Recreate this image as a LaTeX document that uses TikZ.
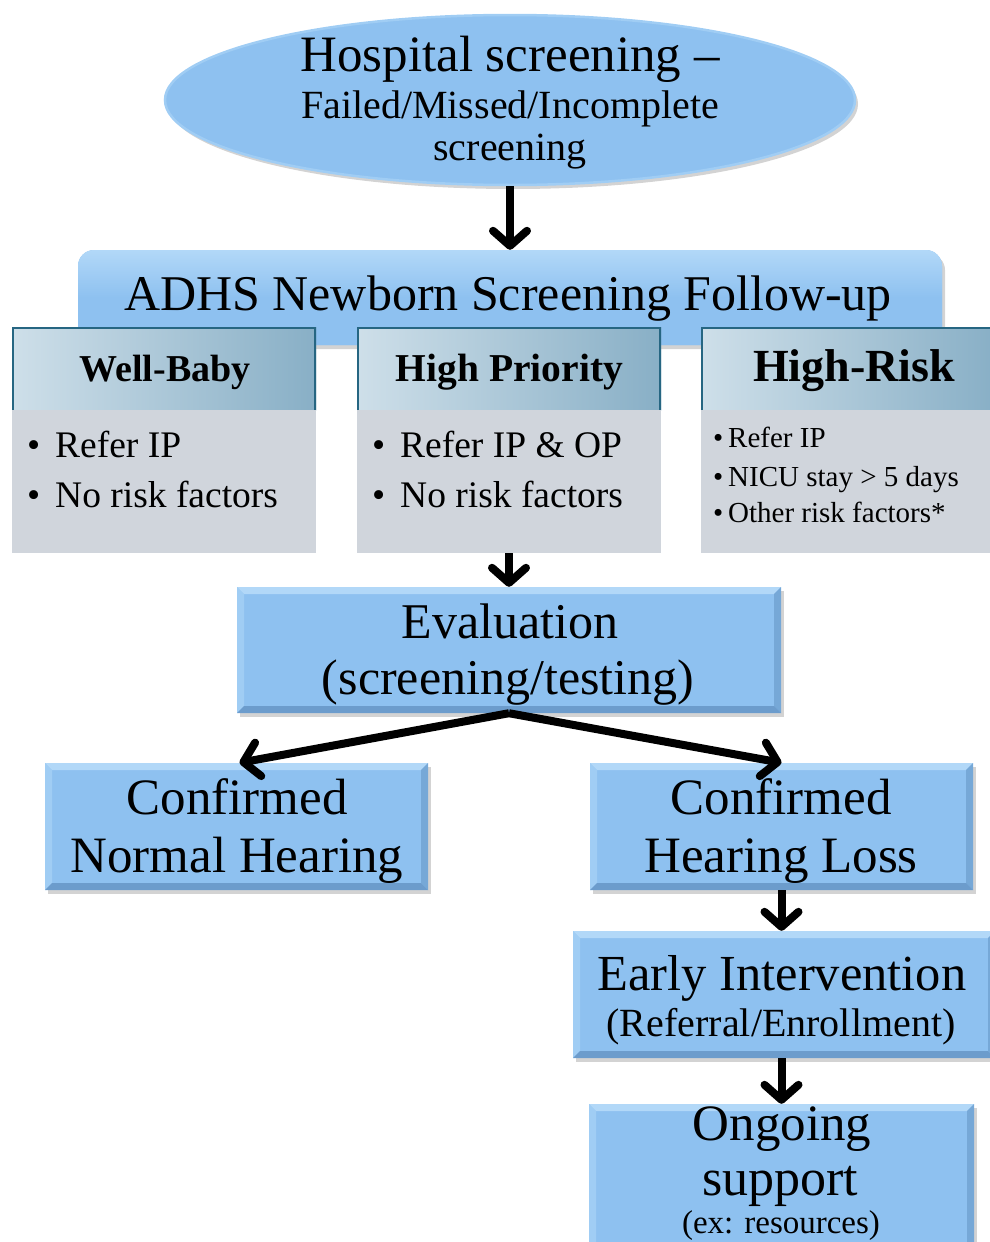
\documentclass[tikz,border=0pt]{standalone}
\usepackage{fontspec}
\setmainfont{Liberation Serif}
\usetikzlibrary{arrows.meta,shapes.geometric,shadows,calc}
\definecolor{boxblue}{RGB}{142,193,240}
\definecolor{bevtop}{RGB}{178,216,248}
\definecolor{bevleft}{RGB}{160,205,244}
\definecolor{bevright}{RGB}{118,168,215}
\definecolor{bevbottom}{RGB}{108,156,204}
\definecolor{bodygray}{RGB}{208,213,220}
\definecolor{hdrlight}{RGB}{206,223,233}
\definecolor{hdrdark}{RGB}{136,175,198}
\definecolor{hdrborder}{RGB}{38,102,130}
\tikzset{
  txt/.style={font=\fontsize{#1}{#1}\selectfont, inner sep=0pt, anchor=base},
  btxt/.style={font=\fontsize{#1}{#1}\selectfont\bfseries, inner sep=0pt, anchor=base},
  ltxt/.style={font=\fontsize{#1}{#1}\selectfont, inner sep=0pt, anchor=base west},
  shad/.style={drop shadow={opacity=0.35, shadow xshift=3pt, shadow yshift=-4pt}},
  bevelbox/.style={rectangle, fill=boxblue, inner sep=0pt, shad,
    path picture={
      \path (path picture bounding box.north west) coordinate (pNW)
            (path picture bounding box.north east) coordinate (pNE)
            (path picture bounding box.south west) coordinate (pSW)
            (path picture bounding box.south east) coordinate (pSE);
      \fill[bevtop] (pNW) -- (pNE) -- ([shift={(-7pt,-7pt)}]pNE) -- ([shift={(7pt,-7pt)}]pNW) -- cycle;
      \fill[bevleft] (pNW) -- ([shift={(7pt,-7pt)}]pNW) -- ([shift={(7pt,7pt)}]pSW) -- (pSW) -- cycle;
      \fill[bevright] (pNE) -- (pSE) -- ([shift={(-7pt,7pt)}]pSE) -- ([shift={(-7pt,-7pt)}]pNE) -- cycle;
      \fill[bevbottom] (pSW) -- ([shift={(7pt,7pt)}]pSW) -- ([shift={(-7pt,7pt)}]pSE) -- (pSE) -- cycle;
    }},
  hdrbox/.style={rectangle, inner sep=0pt, left color=hdrlight, right color=hdrdark,
    path picture={
      \draw[hdrborder, line width=4pt] (path picture bounding box.south west) -- (path picture bounding box.north west)
        -- (path picture bounding box.north east) -- (path picture bounding box.south east);
    }},
  bodybox/.style={rectangle, inner sep=0pt, fill=bodygray},
  arr/.style={line width=8pt, -{Straight Barb[length=15pt, width=34pt, round]}},
}
\begin{document}
\begin{tikzpicture}[x=1pt, y=-1pt]
\useasboundingbox (0,0) rectangle (989,1242);
% top ellipse
\node[ellipse, fill=boxblue, draw=bevleft, line width=2.5pt, minimum width=690pt, minimum height=170pt, shad] (hosp) at (510,100) {};
\node[txt=51] (hospa) at (510,71) {Hospital screening –};
\node[txt=40] (hospb) at (510,118) {Failed/Missed/Incomplete};
\node[txt=40] (hospc) at (510,160) {screening};
% ADHS box
\node[rectangle, rounded corners=16pt, fill=boxblue, minimum width=864pt, minimum height=95pt, inner sep=0pt, shad,
      top color=bevtop, bottom color=boxblue, middle color=boxblue] (adhs) at (510,297.5) {};
\node[txt=50] (adhst) at (508,310) {ADHS Newborn Screening Follow-up};
% category headers and bodies
\node[hdrbox, minimum width=304pt, minimum height=83pt] (wbh) at (164,368.5) {};
\node[bodybox, minimum width=304pt, minimum height=143pt] (wbb) at (164,481.5) {};
\node[hdrbox, minimum width=304pt, minimum height=83pt] (hph) at (509,368.5) {};
\node[bodybox, minimum width=304pt, minimum height=143pt] (hpb) at (509,481.5) {};
\node[hdrbox, minimum width=294pt, minimum height=83pt] (hrh) at (848,368.5) {};
\node[bodybox, minimum width=294pt, minimum height=143pt] (hrb) at (848,481.5) {};
\node[btxt=38] (wbt) at (165,381) {Well-Baby};
\node[btxt=39.5] (hpt) at (509.5,381) {High Priority};
\node[btxt=46] (hrt) at (854,381) {High-Risk};
\node[ltxt=37.5] (wb1) at (27,457) {\makebox[28pt][l]{\textbullet}Refer IP};
\node[ltxt=37.5] (wb2) at (27,507) {\makebox[28pt][l]{\textbullet}No risk factors};
\node[ltxt=37.5] (hp1) at (372,457) {\makebox[28pt][l]{\textbullet}Refer IP \& OP};
\node[ltxt=37.5] (hp2) at (372,507) {\makebox[28pt][l]{\textbullet}No risk factors};
\node[ltxt=29] (hr1) at (713,447) {\makebox[15pt][l]{\textbullet}Refer IP};
\node[ltxt=29] (hr2) at (713,486) {\makebox[15pt][l]{\textbullet}NICU stay > 5 days};
\node[ltxt=29] (hr3) at (713,522) {\makebox[15pt][l]{\textbullet}Other risk factors*};
% evaluation
\node[bevelbox, minimum width=544pt, minimum height=126pt] (eval) at (509,650) {};
\node[txt=50] (evala) at (510,638) {Evaluation};
\node[txt=50] (evalb) at (508,694) {(screening/testing)};
% outcomes
\node[bevelbox, minimum width=383pt, minimum height=127pt] (cnh) at (236.5,826.5) {};
\node[txt=51] (cnha) at (237,814) {Confirmed};
\node[txt=51] (cnhb) at (237,872) {Normal Hearing};
\node[bevelbox, minimum width=383pt, minimum height=127pt] (chl) at (781.5,826.5) {};
\node[txt=51] (chla) at (781,814) {Confirmed};
\node[txt=51] (chlb) at (781,872) {Hearing Loss};
% early intervention
\node[bevelbox, minimum width=422pt, minimum height=127pt] (ei) at (784,994.5) {};
\node[txt=50.5] (eia) at (782,990) {Early Intervention};
\node[txt=40] (eib) at (781,1036) {(Referral/Enrollment)};
% ongoing
\node[bevelbox, minimum width=385pt, minimum height=156pt] (og) at (781.5,1182) {};
\node[txt=51] (oga) at (782,1140) {Ongoing};
\node[txt=52] (ogb) at (780,1195) {support};
\node[txt=33] (ogc) at (781,1233) {(ex: resources)};
% connectors
\draw[arr] (hosp.south) -- (adhs.north);
\draw[arr] (hpb.south) -- (eval.north);
\draw[arr] (eval.south) -- ([xshift=3pt]cnh.north);
\draw[arr] (eval.south) -- (chl.north);
\draw[arr] (chl.south) -- (chl.south |- ei.north);
\draw[arr] (og.north |- ei.south) -- (og.north);
\end{tikzpicture}
\end{document}
